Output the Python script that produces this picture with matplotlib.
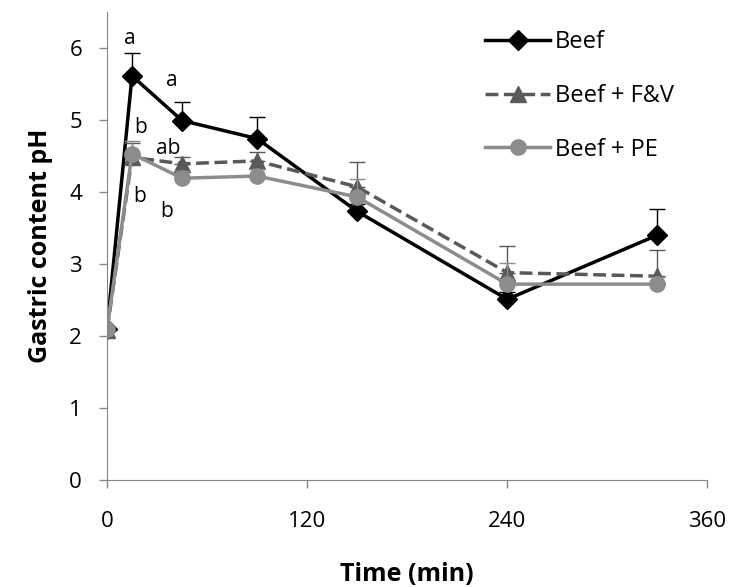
import matplotlib
matplotlib.use('Agg')
import matplotlib.pyplot as plt
import numpy as np

plt.rcParams['font.family'] = ['Open Sans', 'DejaVu Sans']

# time points (min)
time = [0, 15, 45, 90, 150, 240, 330]

beef = [2.1, 5.61, 4.99, 4.74, 3.73, 2.51, 3.40]
beef_err = [0, 0.32, 0.26, 0.30, 0.10, 0.10, 0.36]

fv = [2.08, 4.48, 4.39, 4.43, 4.07, 2.88, 2.83]
fv_err = [0, 0.20, 0.10, 0.12, 0.35, 0.37, 0.36]

pe = [2.1, 4.53, 4.19, 4.22, 3.93, 2.72, 2.72]
pe_err = [0, 0.18, 0.10, 0.10, 0.25, 0.30, 0.10]

# significance letters (x, y, text)
letters_x = [13.8, 39, 20.4, 36.6, 19.8, 36]
letters_y = [6.13, 5.54, 4.9, 4.6, 3.94, 3.73]
letters_txt = ['a', 'a', 'b', 'ab', 'b', 'b']

fig = plt.figure(figsize=(7.33, 5.87), dpi=100)
ax = fig.add_axes([0.146, 0.182, 0.819, 0.798])

series = [
    (beef, beef_err, 'Beef', 'black', '-', 'D', 10),
    (fv, fv_err, 'Beef + F&V', '#595959', '--', '^', 11),
    (pe, pe_err, 'Beef + PE', '#8c8c8c', '-', 'o', 11),
]
for vals, err, lab, col, ls, mk, ms in series:
    ax.errorbar(time, vals, yerr=[np.zeros(len(err)), err], fmt='none',
                ecolor=col, elinewidth=1, capsize=6, capthick=1)
    ax.plot(time, vals, color=col, linestyle=ls, linewidth=2.5,
            marker=mk, markersize=ms, label=lab)

for x, y, t in zip(letters_x, letters_y, letters_txt):
    ax.text(x, y, t, fontsize=15, ha='center', va='center', color='black')

ax.set_xlim(0, 360)
ax.set_ylim(0, 6.5)
ax.set_xticks([0, 120, 240, 360])
ax.set_yticks(range(0, 7))
ax.tick_params(axis='both', labelsize=16, direction='out', length=6,
               color='#868686', width=1)
ax.tick_params(axis='x', pad=16)
ax.tick_params(axis='y', pad=12)
for s in ['top', 'right']:
    ax.spines[s].set_visible(False)
for s in ['left', 'bottom']:
    ax.spines[s].set_color('#868686')

ax.set_xlabel('Time (min)', fontsize=18, fontweight='bold', labelpad=22)
ax.set_ylabel('Gastric content pH', fontsize=18, fontweight='bold', labelpad=12)

ax.legend(loc='upper left', bbox_to_anchor=(0.63, 0.96), frameon=False,
          fontsize=17, handlelength=2.75, handletextpad=0.2, labelspacing=1.25,
          borderaxespad=0, borderpad=0)

fig.savefig('out.png', dpi=100)
